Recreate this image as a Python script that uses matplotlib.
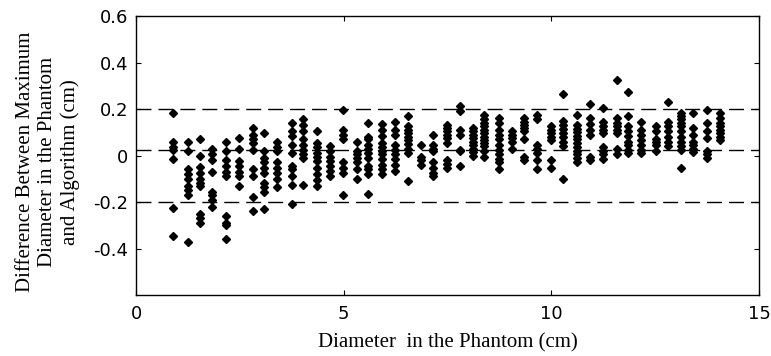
import matplotlib.pyplot as plt

# column positions (diameter in phantom, cm)
diameters = [0.90, 1.26, 1.54, 1.84, 2.16, 2.49, 2.81, 3.08, 3.39, 3.75,
             4.03, 4.35, 4.66, 4.99, 5.31, 5.59, 5.92, 6.24, 6.56, 6.86,
             7.16, 7.50, 7.80, 8.12, 8.38, 8.75, 9.05, 9.35, 9.66, 9.99,
             10.29, 10.61, 10.92, 11.25, 11.57, 11.85, 12.15, 12.52, 12.82,
             13.12, 13.42, 13.76, 14.06]

# differences measured at each diameter (cm)
differences = [
    [0.183, 0.06, 0.037, 0.025, -0.015, -0.226, -0.345],
    [0.06, 0.02, -0.06, -0.08, -0.10, -0.13, -0.15, -0.17, -0.37],
    [0.07, 0.00, -0.05, -0.075, -0.10, -0.12, -0.13, -0.25, -0.27, -0.29],
    [0.03, 0.005, -0.02, -0.07, -0.155, -0.17, -0.19, -0.22],
    [0.06, 0.02, -0.02, -0.045, -0.07, -0.09, -0.26, -0.29, -0.30, -0.36],
    [0.075, 0.03, -0.025, -0.045, -0.07, -0.09, -0.13],
    [0.12, 0.09, 0.07, 0.055, 0.025, -0.06, -0.09, -0.18, -0.24],
    [0.095, 0.02, -0.01, -0.03, -0.055, -0.075, -0.12, -0.135, -0.155, -0.23],
    [0.057, 0.037, 0.018, -0.03, -0.055, -0.075, -0.10, -0.135],
    [0.14, 0.105, 0.085, 0.045, 0.01, -0.045, -0.06, -0.09, -0.125, -0.21],
    [0.155, 0.13, 0.105, 0.07, 0.045, 0.025, 0.005, -0.01, -0.125],
    [0.105, 0.055, 0.035, 0.01, -0.005, -0.025, -0.055, -0.08, -0.105, -0.13],
    [0.04, 0.02, -0.005, -0.025, -0.045, -0.065, -0.09],
    [0.195, 0.11, 0.09, 0.07, -0.03, -0.055, -0.075, -0.17],
    [0.06, 0.02, 0.005, -0.01, -0.03, -0.06, -0.10],
    [0.14, 0.08, 0.07, 0.045, 0.03, 0.01, -0.01, -0.045, -0.06, -0.08, -0.165],
    [0.135, 0.11, 0.085, 0.055, 0.035, 0.02, 0.005, -0.015, -0.04, -0.06, -0.08],
    [0.145, 0.11, 0.09, 0.045, 0.025, 0.005, -0.015, -0.04, -0.065],
    [0.17, 0.125, 0.11, 0.095, 0.08, 0.065, 0.05, 0.03, 0.01, -0.11],
    [0.045, -0.005, -0.02, -0.04],
    [0.09, 0.045, 0.03, 0.02, -0.03, -0.055, -0.075, -0.09],
    [0.13, 0.12, 0.105, 0.09, 0.075, 0.055, -0.02, -0.035, -0.055],
    [0.215, 0.19, 0.11, 0.09, 0.025, 0.02, -0.045],
    [0.12, 0.105, 0.09, 0.075, 0.06, 0.045, 0.03, 0.015, 0.0],
    [0.175, 0.155, 0.14, 0.125, 0.11, 0.095, 0.08, 0.065, 0.055, 0.04, 0.02, -0.005],
    [0.16, 0.14, 0.11, 0.09, 0.07, 0.045, 0.025, 0.005, -0.015, -0.03, -0.06],
    [0.105, 0.09, 0.075, 0.06, 0.03],
    [0.16, 0.145, 0.13, 0.12, 0.105, 0.07, -0.005, -0.02],
    [0.175, 0.155, 0.045, 0.03, 0.01, -0.02, -0.06],
    [0.125, 0.11, 0.095, 0.08, 0.065, -0.02, -0.055],
    [0.265, 0.15, 0.13, 0.115, 0.095, 0.08, 0.06, 0.04, -0.10],
    [0.175, 0.13, 0.115, 0.10, 0.085, 0.07, 0.055, 0.035, 0.02, 0.005, -0.01, -0.03],
    [0.22, 0.16, 0.135, 0.11, 0.09, -0.005, -0.02],
    [0.205, 0.145, 0.125, 0.11, 0.095, 0.035, 0.02, 0.005, -0.015],
    [0.325, 0.16, 0.14, 0.125, 0.11, 0.095, 0.03, 0.005],
    [0.275, 0.17, 0.125, 0.105, 0.085, 0.06, 0.045, 0.025, 0.01],
    [0.145, 0.11, 0.09, 0.065, 0.045, 0.025, 0.01],
    [0.125, 0.105, 0.07, 0.06, 0.045, 0.02],
    [0.23, 0.145, 0.125, 0.105, 0.08, 0.06, 0.04],
    [0.185, 0.17, 0.155, 0.14, 0.125, 0.105, 0.08, 0.06, 0.04, 0.025, -0.055],
    [0.185, 0.12, 0.09, 0.06, 0.045, 0.03, 0.015],
    [0.195, 0.14, 0.105, 0.075, 0.02, 0.005, -0.01],
    [0.185, 0.16, 0.14, 0.125, 0.11, 0.095, 0.08, 0.065],
]

mean_diff = 0.025
limits = [0.2, -0.2]

xs = []
ys = []
for d, vals in zip(diameters, differences):
    xs += [d] * len(vals)
    ys += vals

fig = plt.figure(figsize=(7.71, 3.56), dpi=100)
ax = fig.add_axes([0.1764, 0.1713, 0.808, 0.7837])

ax.plot(xs, ys, linestyle='none', marker='D', markersize=3.8, color='black')

for y in limits + [mean_diff]:
    ax.axhline(y, color='black', lw=1.0, dashes=(10.8, 5))

ax.set_xlim(0, 15)
ax.set_ylim(-0.6, 0.6)
ax.set_xticks([0, 5, 10, 15])
ax.set_xticklabels(['0', '5', '10', '15'])
ax.set_yticks([-0.4, -0.2, 0, 0.2, 0.4, 0.6])
ax.set_yticklabels(['-0.4', '-0.2', '0', '0.2', '0.4', '0.6'])

for s in ax.spines.values():
    s.set_linewidth(1.0)
ax.tick_params(direction='in', length=3.5, width=0.8, top=True, right=True,
               labelsize=13, labelfontfamily='DejaVu Sans')
ax.tick_params(axis='x', pad=7)
ax.tick_params(axis='y', pad=5.5)

ax.set_xlabel('Diameter  in the Phantom (cm)', family='Liberation Serif',
              fontsize=15, labelpad=7.5)
fig.text(48 / 771, 0.545,
         'Difference Between Maximum\nDiameter in the Phantom\nand Algorithm (cm)',
         rotation=90, ha='center', va='center', multialignment='center',
         family='Liberation Serif', fontsize=15, linespacing=1.2)

fig.savefig('out.png', dpi=100)
